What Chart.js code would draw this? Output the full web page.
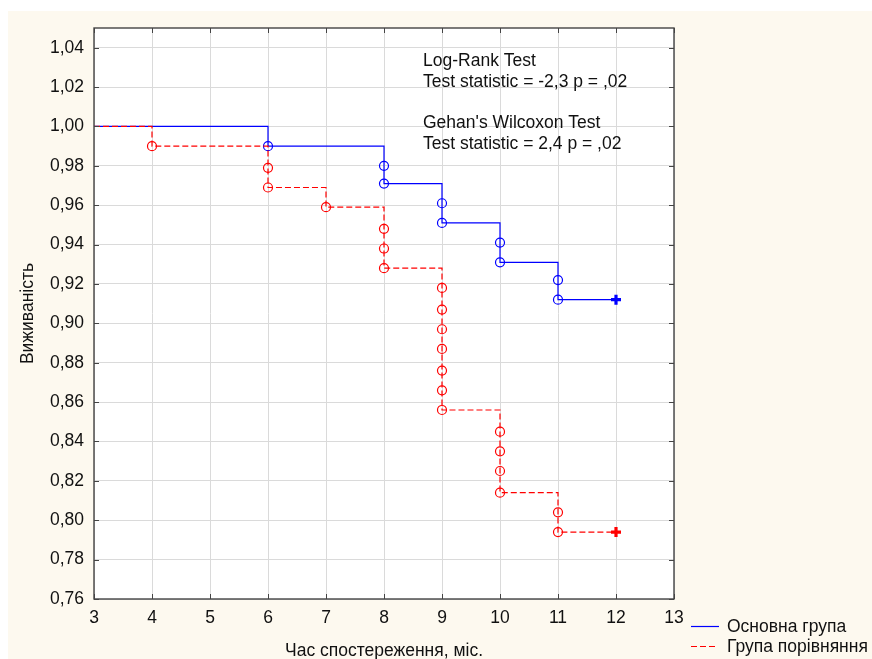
<!DOCTYPE html>
<html>
<head>
<meta charset="utf-8">
<script src="https://cdn.jsdelivr.net/npm/chart.js@4"></script>
<style>
  body { margin: 0; background: #fff; }
  #wrap { width: 872px; height: 659px; }
</style>
</head>
<body>
<div id="wrap"><canvas id="km" width="872" height="659"></canvas></div>
<script>
// KAPLAN-MEIER CURVES
const xTicks = [3, 4, 5, 6, 7, 8, 9, 10, 11, 12, 13];
const yTicks = [0.76, 0.78, 0.80, 0.82, 0.84, 0.86, 0.88, 0.90, 0.92, 0.94, 0.96, 0.98, 1.00, 1.02, 1.04];

// Основна група
const mainTimes = [3, 6, 8, 8, 9, 9, 10, 10, 11, 11, 12];
const mainSurv = [1.000, 0.990, 0.980, 0.971, 0.961, 0.951, 0.941, 0.931, 0.922, 0.912, 0.912];

// Група порівняння
const compTimes = [3, 4, 6, 6, 7, 8, 8, 8, 9, 9, 9, 9, 9, 9, 9, 10, 10, 10, 10, 11, 11, 12];
const compSurv = [1.000, 0.990, 0.979, 0.969, 0.959, 0.948, 0.938, 0.928,
  0.918, 0.907, 0.897, 0.887, 0.876, 0.866, 0.856,
  0.845, 0.835, 0.825, 0.814, 0.804, 0.794, 0.794];

const testLines = [
  "Log-Rank Test",
  "Test statistic = -2,3 p = ,02",
  "",
  "Gehan's Wilcoxon Test",
  "Test statistic = 2,4 p = ,02"
];
const seriesNames = ["Основна група", "Група порівняння"];

const FONT = "'Liberation Sans', Arial, sans-serif";
const fontSize = 17.5;

function toPoints(xs, ys) {
  return xs.map((x, i) => ({ x: x, y: ys[i] }));
}

// first point has no marker, last one is the censored cross
function markerStyles(n) {
  const style = [], radius = [], width = [];
  for (let i = 0; i < n; i++) {
    const last = i === n - 1;
    style.push(last ? "cross" : "circle");
    radius.push(i === 0 ? 0 : (last ? 5 : 4.5));
    width.push(last ? 3.2 : 1.2);
  }
  return { style, radius, width };
}

const mainMarks = markerStyles(mainTimes.length);
const compMarks = markerStyles(compTimes.length);

const decor = {
  id: "decor",
  beforeDraw(chart) {
    const { ctx, chartArea: a } = chart;
    ctx.save();
    ctx.fillStyle = "#fdf9ef";
    ctx.fillRect(8, 11, chart.width - 8, chart.height - 11);
    ctx.fillStyle = "#ffffff";
    ctx.fillRect(a.left, a.top, a.right - a.left, a.bottom - a.top);
    ctx.restore();
  },
  afterDraw(chart) {
    const { ctx, chartArea: a } = chart;
    const xs = chart.scales.x, ys = chart.scales.y;
    ctx.save();

    // frame and inward ticks
    ctx.strokeStyle = "#444";
    ctx.lineWidth = 1.4;
    ctx.strokeRect(a.left, a.top, a.right - a.left, a.bottom - a.top);
    ctx.lineWidth = 1;
    ctx.beginPath();
    xTicks.forEach(v => {
      const px = Math.round(xs.getPixelForValue(v)) + 0.5;
      ctx.moveTo(px, a.bottom); ctx.lineTo(px, a.bottom - 5);
      ctx.moveTo(px, a.top); ctx.lineTo(px, a.top + 5);
    });
    yTicks.forEach(v => {
      const py = Math.round(ys.getPixelForValue(v)) + 0.5;
      ctx.moveTo(a.left, py); ctx.lineTo(a.left + 5, py);
      ctx.moveTo(a.right, py); ctx.lineTo(a.right - 5, py);
    });
    ctx.stroke();

    ctx.fillStyle = "#111";
    ctx.font = fontSize + "px " + FONT;

    // test results
    ctx.textAlign = "left";
    ctx.textBaseline = "alphabetic";
    testLines.forEach((t, i) => {
      if (t) ctx.fillText(t, a.left + 329, a.top + 38 + i * 20.8);
    });

    // axis titles
    ctx.textAlign = "center";
    ctx.fillText("Час спостереження, міс.", (a.left + a.right) / 2, 656);
    ctx.save();
    ctx.translate(33, (a.top + a.bottom) / 2);
    ctx.rotate(-Math.PI / 2);
    ctx.fillText("Виживаність", 0, 0);
    ctx.restore();

    // legend
    ctx.textAlign = "left";
    ctx.strokeStyle = "#0000ff";
    ctx.lineWidth = 1.2;
    ctx.beginPath();
    ctx.moveTo(691, 626.5); ctx.lineTo(719, 626.5);
    ctx.stroke();
    ctx.fillText(seriesNames[0], 727, 632);
    ctx.strokeStyle = "#ff0000";
    ctx.setLineDash([6, 3]);
    ctx.beginPath();
    ctx.moveTo(691, 646.5); ctx.lineTo(716, 646.5);
    ctx.stroke();
    ctx.setLineDash([]);
    ctx.fillText(seriesNames[1], 727, 652);

    ctx.restore();
  }
};

const kmChart = new Chart(document.getElementById("km").getContext("2d"), {
  type: "line",
  data: {
    datasets: [
      {
        label: seriesNames[0],
        data: toPoints(mainTimes, mainSurv),
        stepped: "before",
        borderColor: "#0000ff",
        borderWidth: 1.2,
        pointStyle: mainMarks.style,
        pointRadius: mainMarks.radius,
        pointBorderWidth: mainMarks.width,
        pointBorderColor: "#0000ff",
        pointBackgroundColor: "rgba(0,0,0,0)",
        order: 2,
        clip: 6
      },
      {
        label: seriesNames[1],
        data: toPoints(compTimes, compSurv),
        stepped: "before",
        borderColor: "#ff0000",
        borderWidth: 1.2,
        borderDash: [6, 3],
        pointStyle: compMarks.style,
        pointRadius: compMarks.radius,
        pointBorderWidth: compMarks.width,
        pointBorderColor: "#ff0000",
        pointBackgroundColor: "rgba(0,0,0,0)",
        order: 1,
        clip: 6
      }
    ]
  },
  options: {
    responsive: false,
    animation: false,
    layout: { padding: { left: 0, top: 28, right: 198, bottom: 0 } },
    plugins: {
      legend: { display: false },
      tooltip: { enabled: false }
    },
    scales: {
      x: {
        type: "linear",
        min: 3,
        max: 13,
        afterBuildTicks: scale => { scale.ticks = xTicks.map(v => ({ value: v })); },
        afterFit: scale => { scale.height = 60; },
        grid: { color: "#dadada", lineWidth: 1, drawTicks: false },
        border: { display: false },
        ticks: {
          padding: 8.5,
          color: "#111",
          font: { family: FONT, size: fontSize },
          callback: v => String(v)
        }
      },
      y: {
        type: "linear",
        min: 0.76,
        max: 1.05,
        afterBuildTicks: scale => { scale.ticks = yTicks.map(v => ({ value: v })); },
        afterFit: scale => { scale.width = 94; },
        grid: { color: "#dadada", lineWidth: 1, drawTicks: false },
        border: { display: false },
        ticks: {
          padding: 10,
          color: "#111",
          font: { family: FONT, size: fontSize },
          callback: v => v.toFixed(2).replace(".", ",")
        }
      }
    }
  },
  plugins: [decor]
});
</script>
</body>
</html>
